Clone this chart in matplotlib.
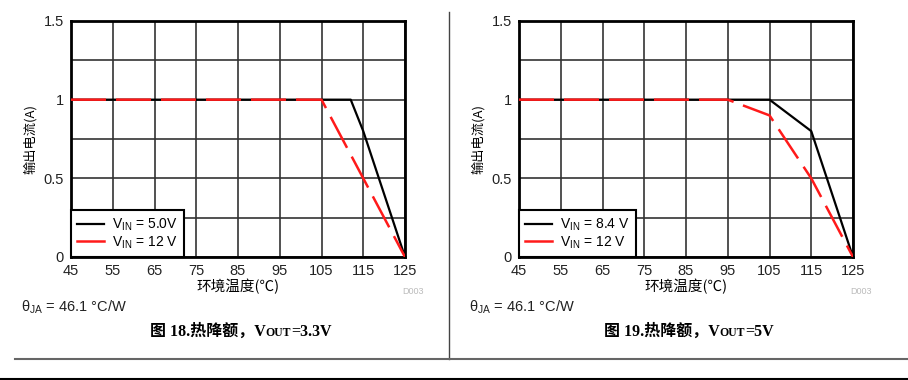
import matplotlib
matplotlib.use("Agg")
import matplotlib.pyplot as plt
from matplotlib.offsetbox import TextArea, HPacker, AnnotationBbox

plt.rcParams['font.family'] = ['Liberation Sans', 'Noto Sans CJK SC', 'DejaVu Sans']
plt.rcParams['mathtext.fontset'] = 'custom'
plt.rcParams['mathtext.rm'] = 'Liberation Sans'
plt.rcParams['mathtext.it'] = 'Liberation Sans'

# chart data
temp_ticks = [45, 55, 65, 75, 85, 95, 105, 115, 125]

left_hi_x = [45, 112, 115, 125]
left_hi_y = [1, 1, 0.8, 0]
left_lo_x = [45, 105, 125]
left_lo_y = [1, 1, 0]

right_hi_x = [45, 105, 115, 125]
right_hi_y = [1, 1, 0.8, 0]
right_lo_x = [45, 95, 105, 115, 125]
right_lo_y = [1, 1, 0.9, 0.5, 0]

charts = [
    (left_hi_x, left_hi_y, left_lo_x, left_lo_y,
     r'V$_{\mathrm{IN}}$ = 5.0V', r'V$_{\mathrm{IN}}$ = 12 V', '18', '3.3V'),
    (right_hi_x, right_hi_y, right_lo_x, right_lo_y,
     r'V$_{\mathrm{IN}}$ = 8.4 V', r'V$_{\mathrm{IN}}$ = 12 V', '19', '5V'),
]

fig = plt.figure(figsize=(9.08, 3.8), dpi=100)

cap_font = dict(fontweight='bold', color='black',
                family=['Liberation Serif', 'Noto Sans CJK SC'])

lefts = [71 / 908, 519 / 908]
for i, (hx, hy, lx, ly, hlab, llab, fignum, vout) in enumerate(charts):
    ax = fig.add_axes([lefts[i], 1 - 257 / 380, 334 / 908, 236 / 380])
    ax.set_xlim(45, 125)
    ax.set_ylim(0, 1.5)
    ax.set_xticks(temp_ticks)
    ax.set_yticks([0, 0.5, 1, 1.5])
    ax.set_yticklabels(['0', '0.5', '1', '1.5'])
    ax.set_yticks([0.25, 0.75, 1.25], minor=True)
    ax.grid(True, which='both', color='#333333', lw=1.2)
    ax.tick_params(which='both', length=0, labelsize=10.5, pad=5, labelcolor='#222222')
    for s in ax.spines.values():
        s.set_linewidth(2)
    ax.plot(hx, hy, color='black', lw=1.6, label=hlab, zorder=3)
    ax.plot(lx, ly, color='#ff1a1a', lw=1.8, dashes=(14, 4), label=llab, zorder=4)
    leg = ax.legend(loc='lower left', borderaxespad=0, fontsize=10, fancybox=False,
                    framealpha=1, edgecolor='black', handlelength=1.9,
                    handletextpad=0.6, borderpad=0.45, labelspacing=0.1)
    leg.get_frame().set_linewidth(1.5)
    leg.legend_handles[1].set_linestyle('-')
    ax.set_xlabel('环境温度(℃)', fontsize=10.5, labelpad=1,
                  family=['Noto Sans CJK SC', 'DejaVu Sans'])
    ax.set_ylabel('输出电流(A)', fontsize=9.5, labelpad=5,
                  family=['Noto Sans CJK SC', 'DejaVu Sans'])
    x0 = lefts[i] * 908
    fig.text((x0 + 342) / 908, 1 - 292 / 380, 'D003', fontsize=6.5, color='#bbbbbb',
             ha='center', va='center')
    fig.text((x0 - 50) / 908, 1 - 307 / 380, r'$\theta_{\mathrm{JA}}$ = 46.1 °C/W',
             fontsize=10.5, color='#222222', ha='left', va='center')
    cap = HPacker(children=[
        TextArea('图 ' + fignum + '.热降额，V', textprops=dict(fontsize=11.5, **cap_font)),
        TextArea('OUT', textprops=dict(fontsize=8.5, **cap_font)),
        TextArea('=' + vout, textprops=dict(fontsize=11.5, **cap_font)),
    ], align='baseline', pad=0, sep=0)
    fig.add_artist(AnnotationBbox(cap, ((x0 + 170) / 908, 1 - 332 / 380),
                                  xycoords='figure fraction', frameon=False,
                                  box_alignment=(0.5, 0.5)))

# separators
fig.add_artist(plt.Line2D([449 / 908, 449 / 908], [1 - 12 / 380, 1 - 359 / 380],
                          color='#444444', lw=1))
fig.add_artist(plt.Line2D([15 / 908, 1.0], [1 - 359 / 380, 1 - 359 / 380],
                          color='#666666', lw=1.5))
fig.add_artist(plt.Line2D([0, 1.0], [1 - 378.5 / 380, 1 - 378.5 / 380],
                          color='black', lw=1.5))

fig.savefig('out.png', dpi=100)
